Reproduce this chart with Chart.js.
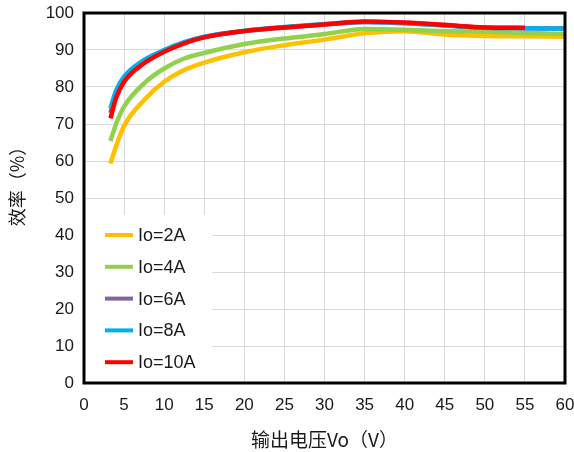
<!DOCTYPE html>
<html>
<head>
<meta charset="utf-8">
<script src="https://cdn.jsdelivr.net/npm/chart.js@4.4.1/dist/chart.umd.min.js"></script>
<style>
  html, body { margin: 0; padding: 0; background: #fff; }
  #wrap { width: 574px; height: 452px; position: relative; }
</style>
</head>
<body>
<div id="wrap"><canvas id="chart"></canvas></div>
<script>
// output voltage (V) where efficiency was read
const voltages = [3.3, 4, 5, 7.5, 10, 12.5, 15, 20, 25, 30, 35, 40, 45, 50, 55, 60];

// efficiency (%) per load current
const eff2A  = [59.3, 64.0, 69.5, 76.5, 81.4, 84.6, 86.6, 89.4, 91.3, 92.8, 94.5, 95.1, 94.2, 93.8, 93.7, 93.6];
const eff4A  = [65.4, 70.0, 74.7, 81.0, 85.0, 87.7, 89.2, 91.6, 93.1, 94.3, 95.7, 95.5, 95.1, 94.9, 94.6, 94.3];
const eff6A  = [73.0, 78.0, 82.0, 87.0, 89.8, 92.0, 93.5, 95.1, 96.1, 96.9, 97.6, 97.3, 96.7, 96.0, 95.9, 95.8];
const eff8A  = [74.2, 79.0, 82.8, 87.3, 90.0, 92.1, 93.6, 95.2, 96.2, 97.0, 97.6, 97.2, 96.6, 96.0, 95.9, 95.8];
const eff10A = [71.5, 77.0, 81.4, 86.4, 89.5, 91.8, 93.4, 95.1, 96.1, 96.9, 97.7, 97.4, 96.8, 96.1, 96.0, null];

const seriesLabels = ["Io=2A", "Io=4A", "Io=6A", "Io=8A", "Io=10A"];
const seriesColors = ["#FFC000", "#92D050", "#8064A2", "#00B0F0", "#FF0000"];
const seriesValues = [eff2A, eff4A, eff6A, eff8A, eff10A];

const xTickStep = 5;
const yTickStep = 10;

const TICK_FONT = "'Liberation Sans', Arial, sans-serif";
const CJK_FONT = "'Noto Sans CJK SC', sans-serif";
const TEXT_COLOR = "#1a1a1a";

function toPoints(values) {
  const pts = [];
  values.forEach((v, i) => {
    if (v !== null) pts.push({ x: voltages[i], y: v });
  });
  return pts;
}

const datasets = seriesValues.map((vals, i) => ({
  label: seriesLabels[i],
  data: toPoints(vals),
  borderColor: seriesColors[i],
  backgroundColor: seriesColors[i],
  borderWidth: 4.5,
  pointRadius: 0,
  cubicInterpolationMode: "monotone",
  fill: false,
  // later series sit on top, like the original
  order: seriesValues.length - i,
}));

// frame round the plot, y title and the boxed legend
const decorations = {
  id: "decorations",
  afterDatasetsDraw(chart) {
    const { ctx, chartArea: a } = chart;
    ctx.save();
    ctx.strokeStyle = "#000";
    ctx.lineWidth = 3;
    ctx.strokeRect(a.left, a.top, a.right - a.left, a.bottom - a.top);
    ctx.restore();
  },
  afterDraw(chart) {
    const { ctx, chartArea: a } = chart;
    ctx.save();

    // y axis title
    ctx.translate(17, 182);
    ctx.rotate(-Math.PI / 2);
    ctx.fillStyle = TEXT_COLOR;
    ctx.font = "18px " + CJK_FONT;
    ctx.textAlign = "center";
    ctx.textBaseline = "middle";
    ctx.fillText("效率（%）", 0, 0);
    ctx.restore();

    // legend
    ctx.save();
    const boxLeft = a.left + 2, boxTop = 215, boxRight = 212, boxBottom = a.bottom - 2;
    ctx.fillStyle = "#fff";
    ctx.fillRect(boxLeft, boxTop, boxRight - boxLeft, boxBottom - boxTop);
    ctx.font = "18px " + TICK_FONT;
    ctx.textBaseline = "middle";
    chart.data.datasets.forEach((ds, i) => {
      const y = 235 + i * 31.8;
      ctx.strokeStyle = ds.borderColor;
      ctx.lineWidth = 4;
      ctx.beginPath();
      ctx.moveTo(105, y);
      ctx.lineTo(133, y);
      ctx.stroke();
      ctx.fillStyle = TEXT_COLOR;
      ctx.fillText(ds.label, 138, y + 1);
    });
    ctx.restore();
  },
};

new Chart(document.getElementById("chart"), {
  type: "line",
  data: { datasets: datasets },
  options: {
    responsive: true,
    maintainAspectRatio: false,
    animation: false,
    layout: { padding: { top: 13, right: 9, bottom: 0, left: 0 } },
    plugins: {
      legend: { display: false },
      tooltip: { enabled: false },
    },
    scales: {
      x: {
        type: "linear",
        min: 0,
        max: 60,
        ticks: {
          stepSize: xTickStep,
          padding: 12,
          color: TEXT_COLOR,
          font: { family: TICK_FONT, size: 17 },
        },
        grid: { color: "#d9d9d9", lineWidth: 1, drawTicks: false },
        border: { display: false },
        title: {
          display: true,
          text: "输出电压Vo（V）",
          color: TEXT_COLOR,
          font: { family: CJK_FONT, size: 19 },
          padding: { top: 0, bottom: 1 },
        },
        afterFit: (s) => {
          s.height = 69;
          s.paddingLeft = 0;
          s.paddingRight = 0;
        },
      },
      y: {
        min: 0,
        max: 100,
        ticks: {
          stepSize: yTickStep,
          padding: 10,
          color: TEXT_COLOR,
          font: { family: TICK_FONT, size: 17 },
        },
        grid: { color: "#d9d9d9", lineWidth: 1, drawTicks: false },
        border: { display: false },
        afterFit: (s) => {
          s.width = 84;
          s.paddingTop = 0;
          s.paddingBottom = 0;
        },
      },
    },
  },
  plugins: [decorations],
});
</script>
</body>
</html>
